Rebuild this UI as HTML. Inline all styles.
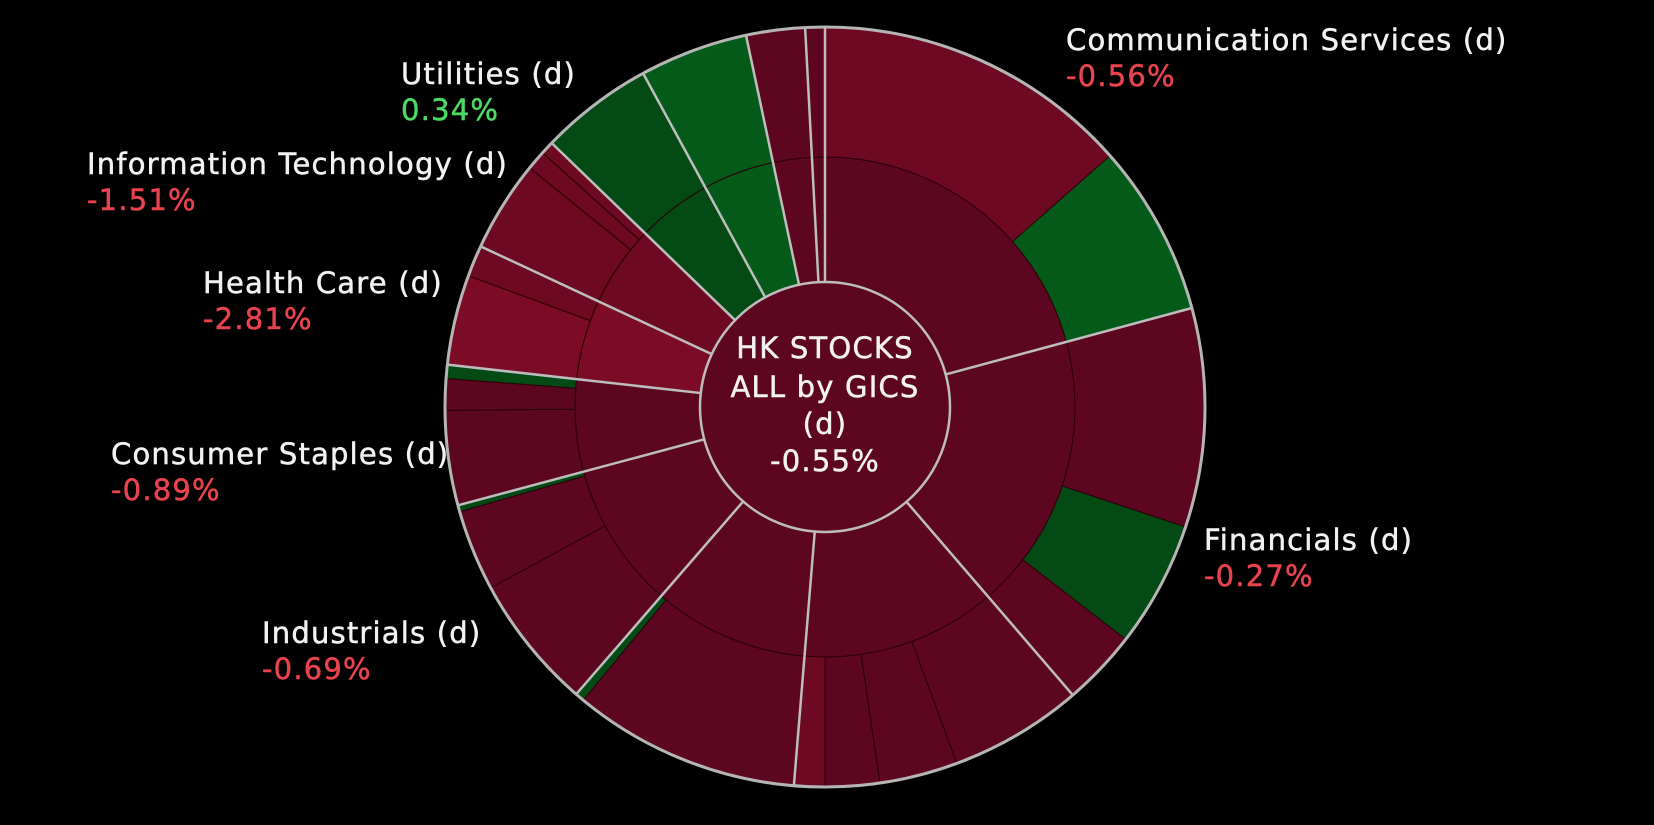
<!DOCTYPE html>
<html><head><meta charset="utf-8"><style>
html,body{margin:0;padding:0;background:#000;}
svg{display:block}
text{font-family:"DejaVu Sans","Liberation Sans",sans-serif;}
</style></head><body>
<svg id="chart" width="1654" height="825" viewBox="0 0 1654 825">
<rect width="1654" height="825" fill="#000"/>
<g id="rings"></g>
<g id="labels"></g>
</svg>
<script>
const sectorNames = ["Communication Services","Financials","Consumer Discretionary","Real Estate","Industrials","Consumer Staples","Health Care","Information Technology","Utilities","Utilities 2","Energy","Materials"];
const sectorSpans = [74.9, 64.4, 45.4, 36.2, 34.1, 21.4, 18.6, 19.0, 17.4, 16.6, 9.0, 3.0];
const sectorUp = [false,false,false,false,false,false,false,false,true,true,false,false];
const sectorShade = [0,0,0,0,0,0,2,1,0,1,0,0];
const subSpans = [[48.6,26.3],[33.5,19.3,11.6],[20.4,12,8.3,4.7],[34.8,1.4],[20.7,12.4,1.0],[14.5,4.8,2.1],[13.8,4.8],[14,3,2],[17.4],[16.6],[9.0],[3.0]];
const subUp = [[false,true],[false,true,false],[false,false,false,false],[false,true],[false,false,true],[false,false,true],[false,false],[false,false,false],[true],[true],[false],[false]];
const subShade = [[1,1],[0,0,0],[0,0,0,1],[0,0],[0,0,0],[0,0,0],[2,1],[1,1,1],[0,1],[1],[0],[0]];
const labelSectors = [0,1,4,5,6,7,8];
const labelValues = ["-0.56%","-0.27%","-0.69%","-0.89%","-2.81%","-1.51%","0.34%"];
const labelPos = [[1066,40],[1204,540],[262,633],[111,454],[203,283],[87,164],[401,74]];
const totalValue = "-0.55%";

const cx=825, cy=407, R0=125, R1=250, R2=380;
const NS="http://www.w3.org/2000/svg";
const reds=["#5c061f","#6d0921","#7c0c25"], greens=["#034a14","#045b19","#045b19"];
function pt(r,a){const t=a*Math.PI/180;return [cx+r*Math.sin(t), cy-r*Math.cos(t)];}
function arc(r1,r2,a1,a2){
  const l=(a2-a1)>180?1:0;
  const p1=pt(r2,a1),p2=pt(r2,a2),p3=pt(r1,a2),p4=pt(r1,a1);
  return `M${p1[0]},${p1[1]}A${r2},${r2} 0 ${l} 1 ${p2[0]},${p2[1]}L${p3[0]},${p3[1]}A${r1},${r1} 0 ${l} 0 ${p4[0]},${p4[1]}Z`;
}
const g=document.getElementById('rings');
let a=0;
const bounds=[];
sectorSpans.forEach((s,i)=>{
  const p=document.createElementNS(NS,'path');
  p.setAttribute('d',arc(R0,R1,a,a+s));
  p.setAttribute('fill',sectorUp[i]?greens[sectorShade[i]]:reds[sectorShade[i]]);
  p.setAttribute('stroke','#2a0008');p.setAttribute('stroke-width','1');
  
  
  g.appendChild(p);
  let b=a;
  subSpans[i].forEach((ss,j)=>{
    const q=document.createElementNS(NS,'path');
    q.setAttribute('d',arc(R1,R2,b,b+ss));
    q.setAttribute('fill',subUp[i][j]?greens[subShade[i][j]]:reds[subShade[i][j]]);
    q.setAttribute('stroke','#2a0008');q.setAttribute('stroke-width','1');
    
    
    g.appendChild(q);
    b+=ss;
  });
  bounds.push(a);
  a+=s;
});
bounds.forEach(b=>{
  const p1=pt(R0,b),p2=pt(R2,b);
  const l=document.createElementNS(NS,'line');
  l.setAttribute('x1',p1[0]);l.setAttribute('y1',p1[1]);l.setAttribute('x2',p2[0]);l.setAttribute('y2',p2[1]);
  l.setAttribute('stroke','#bdbdbd');l.setAttribute('stroke-width','2.5');
  
  
  g.appendChild(l);
});
const oc=document.createElementNS(NS,'circle');
oc.setAttribute('cx',cx);oc.setAttribute('cy',cy);oc.setAttribute('r',R2);oc.setAttribute('fill','none');oc.setAttribute('stroke','#b5b5b5');oc.setAttribute('stroke-width','3');


g.appendChild(oc);
const ic=document.createElementNS(NS,'circle');
ic.setAttribute('cx',cx);ic.setAttribute('cy',cy);ic.setAttribute('r',R0);ic.setAttribute('fill','#5c061f');ic.setAttribute('stroke','#bdbdbd');ic.setAttribute('stroke-width','2.5');


g.appendChild(ic);
const lg=document.getElementById('labels');
function txt(x,y,s,fill,anchor,name){
  const t=document.createElementNS(NS,'text');
  t.setAttribute('x',x);t.setAttribute('y',y);t.setAttribute('fill',fill);t.setAttribute('font-size','29');
  t.setAttribute('letter-spacing','1.2');
  t.setAttribute('stroke',fill);t.setAttribute('stroke-width','0.5');
  t.setAttribute('dominant-baseline','central');t.setAttribute('text-anchor',anchor);
  t.textContent=s;
  
  
  lg.appendChild(t);
}
labelSectors.forEach((si,k)=>{
  const [x,y]=labelPos[k];
  txt(x,y,sectorNames[si]+" (d)","#f2f2f2","start","sector-label");
  const v=labelValues[k];
  txt(x,y+36,v,v.startsWith('-')?"#e8434f":"#4cd964","start","sector-change");
});
txt(cx,348,"HK STOCKS","#f2f2f2","middle","center-title");
txt(cx,387,"ALL by GICS","#f2f2f2","middle","center-title");
txt(cx,424,"(d)","#f2f2f2","middle","center-title");
txt(cx,461,totalValue,"#f2f2f2","middle","center-change");
</script>
</body></html>
